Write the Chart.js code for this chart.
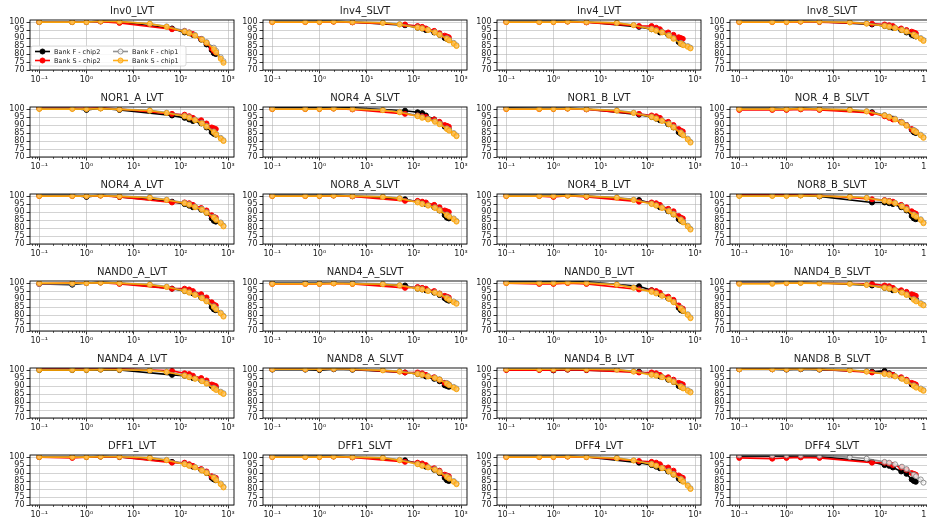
<!DOCTYPE html>
<html>
<head>
<meta charset="utf-8">
<script src="https://cdn.jsdelivr.net/npm/chart.js@4.4.1/dist/chart.umd.min.js"></script>
<style>
  html, body { margin: 0; padding: 0; background: #fff; }
  #grid { position: relative; width: 927px; height: 523px; overflow: hidden; }
  #grid canvas { position: absolute; }
</style>
</head>
<body>
<div id="grid"></div>
<script>
const titles = [
	"Inv0_LVT", "Inv4_SLVT", "Inv4_LVT", "Inv8_SLVT",
	"NOR1_A_LVT", "NOR4_A_SLVT", "NOR1_B_LVT", "NOR_4_B_SLVT",
	"NOR4_A_LVT", "NOR8_A_SLVT", "NOR4_B_LVT", "NOR8_B_SLVT",
	"NAND0_A_LVT", "NAND4_A_SLVT", "NAND0_B_LVT", "NAND4_B_SLVT",
	"NAND4_A_LVT", "NAND8_A_SLVT", "NAND4_B_LVT", "NAND8_B_SLVT",
	"DFF1_LVT", "DFF1_SLVT", "DFF4_LVT", "DFF4_SLVT",
];

const seriesNames = ["Bank F - chip2", "Bank S - chip2", "Bank F - chip1", "Bank S - chip1"];

const xChip2 = [0.1, 0.5, 1, 2, 5, 65, 120, 150, 180, 270, 350, 450, 500, 550];
const xChip1 = [0.1, 0.5, 1, 2, 5, 22, 50, 120, 150, 200, 280, 350, 500, 560, 700, 800];

const bankFchip2 = [
	[100, 100, 100, 100.5, 100, 96, 93.5, 93, 92, 89, 86, 82.5, 80.5, 80],
	[100.5, 100.5, 100.5, 100.5, 100, 98, 96.5, 96, 95, 93.5, 92, 90, 89.5, 89],
	[100.5, 100.5, 100.5, 100.5, 100, 97, 95.5, 95, 93.5, 92, 90, 87.5, 86.5, 86],
	[100.5, 100.5, 100.5, 100.5, 100.2, 98.5, 97.5, 97, 96.5, 95, 93.5, 92, 91.5, 91],
	[100.5, 100.5, 99.5, 100.5, 99.5, 96, 94.5, 93.5, 92.5, 91, 88.5, 85.5, 84.5, 84],
	[101, 101, 101, 101, 100.8, 99, 98, 97.5, 96, 93.5, 91.5, 89, 88, 87.5],
	[100.8, 100.5, 100.5, 100.5, 100, 96.5, 95, 94, 93, 90.5, 88.5, 85.5, 84.5, 84],
	[100.5, 100.5, 100, 100.5, 100, 98, 96, 95, 94, 92, 90, 87, 85.5, 85],
	[100.5, 100.5, 99.5, 100.5, 99.5, 96.5, 95, 94, 93, 91.5, 89.5, 86, 84.5, 84],
	[100.5, 100.5, 100.5, 100.5, 100, 98, 96.5, 96, 95, 93, 91, 88, 86.5, 86],
	[100.5, 100.5, 100.5, 100.8, 100, 97.5, 95.5, 94.5, 93, 90.5, 88.5, 85.5, 84.5, 84],
	[100.5, 100.5, 100.5, 100.5, 99.8, 96, 96, 95.5, 95, 93, 91, 87.5, 86, 85.5],
	[99.5, 99, 100, 100.5, 100, 96.5, 95, 94.5, 93.5, 91, 89, 85, 83.5, 83],
	[100, 100, 100, 100.2, 99.8, 98.5, 96.5, 96, 95.5, 94, 92.5, 90.5, 89.5, 89],
	[101, 101, 101, 101, 100.8, 98, 95.5, 94.5, 93, 90.5, 88.5, 84.5, 83, 82.5],
	[100.5, 100.5, 100.5, 100.5, 100.2, 98.5, 97, 96.5, 95.5, 94.5, 93, 91, 90.5, 90],
	[100, 100, 100, 100.3, 100, 97, 96.5, 96, 95, 93.5, 92, 90, 89.5, 89],
	[100.3, 100.3, 100, 100.5, 100.2, 98.5, 97.5, 97, 96, 94.5, 93, 90.5, 90, 89.5],
	[100.3, 100.3, 99.8, 100.3, 100, 99, 97.5, 97, 96, 94, 92.5, 90, 89.5, 89],
	[100.5, 100.5, 100.3, 100.5, 100.3, 99, 99.5, 98, 97, 95, 93.5, 91, 90.5, 90],
	[100, 100, 100, 100.3, 100, 97, 96, 95, 94, 92, 90, 87, 86, 85.5],
	[100.5, 100.5, 100.5, 100.5, 100, 98, 96, 95, 94, 92, 90, 87, 85.5, 85],
	[100.5, 100.5, 100.5, 100.5, 100, 96.5, 95, 94, 93, 91, 89, 86.5, 85.5, 85],
	[100.5, 100.5, 100.5, 100.5, 100.3, 97, 95, 94.5, 93.5, 91, 89.5, 86, 85, 84.5],
];

const bankSchip2 = [
	[100, 100, 100, 100.3, 99.5, 95.5, 94.5, 93.5, 92.5, 89.5, 87, 83.5, 82, 81],
	[100, 100, 100, 100.2, 99.8, 98.5, 97.5, 97, 96, 94.5, 93, 91.5, 91, 90.5],
	[100, 100, 100, 100.3, 99.8, 97.5, 97.5, 96.5, 95.5, 93.5, 92, 90.5, 90, 89.5],
	[100, 100, 100, 100.3, 100, 99, 98.5, 98, 97.5, 96, 95, 94, 93.5, 93],
	[100.5, 100.5, 100.5, 100.8, 100, 97, 96.5, 95.5, 94.5, 93, 91, 88.5, 88, 87.5],
	[100, 100, 100, 100.3, 99.8, 97, 96, 95.5, 95, 93.5, 92, 90, 89.5, 89],
	[100, 100, 100, 100.3, 99.8, 97, 96, 95.5, 94.5, 92, 90, 87.5, 86.5, 86],
	[99.5, 99.5, 99.5, 99.8, 99.5, 97.5, 95.5, 94.5, 93.5, 92, 90, 87.5, 86.5, 86],
	[100, 100, 100, 100.3, 99.5, 96, 96, 95.5, 94.5, 92.5, 91, 88, 87, 86.5],
	[100, 100, 100, 100.3, 99.8, 97, 97, 96.5, 96, 94.5, 93, 91, 90.5, 90],
	[100, 100, 99.5, 100.3, 99.5, 96.5, 96, 95.5, 94.5, 92, 90.5, 87.5, 86.5, 86],
	[101, 101, 101, 101, 100.5, 98, 97.5, 97, 96.5, 94.5, 93, 90.5, 89.5, 89],
	[99.5, 100, 100, 100.3, 99.5, 96.5, 96.5, 96, 95, 93, 91, 88, 86.5, 86],
	[99.5, 99.5, 99.5, 99.8, 99.5, 97, 97.5, 97, 96.5, 95, 93.5, 92, 91.5, 91],
	[100, 99.5, 99.5, 100, 99.5, 96, 95.5, 95, 94, 91.5, 89.5, 86, 84.5, 84],
	[100, 100, 100, 100.3, 100, 99.5, 98.5, 98, 97, 95.5, 94.5, 93, 92.5, 92],
	[101, 101, 101, 101, 100.8, 99.5, 98, 97.5, 96.5, 95, 93.5, 91, 90.5, 90],
	[100.5, 100.5, 100.5, 100.8, 100.5, 98.5, 98.5, 98, 97, 95.5, 94, 92, 91.5, 91],
	[100, 100, 100, 100.3, 100, 98.5, 98.5, 98, 97, 95.5, 94, 92, 91.5, 91],
	[100.5, 100.5, 100.5, 100.8, 100.5, 98.5, 98, 97.5, 97, 95.5, 94, 92, 91.5, 91],
	[100, 99.5, 100, 100.3, 100, 96.5, 96.5, 95.5, 94.5, 92.5, 91, 88, 87.5, 87],
	[100, 100, 100, 100.3, 99.8, 97, 96.5, 96, 95, 93, 91.5, 89, 88.5, 88],
	[100, 100, 100, 100.3, 100, 97.5, 97, 96.5, 95.5, 93.5, 91.5, 88.5, 87.5, 87],
	[99.5, 99, 99.5, 99.8, 99.5, 96.5, 96.5, 96, 95, 93.5, 92, 90, 89.5, 89],
];

const bankFchip1 = [
	[100, 100, 100, 100.5, 100.5, 99, 97.3, 94.5, 93.5, 92, 89.5, 87.5, 84, 82, 78, 75.5],
	[100.5, 100.5, 100.5, 100.5, 100.2, 99.7, 98.7, 96.8, 96.2, 95.3, 93.8, 92.3, 90, 89, 87, 85.5],
	[100.3, 100.3, 100.3, 100.5, 100.2, 99.6, 98.2, 95.8, 95, 94, 92, 90, 87, 86, 85, 84],
	[100.5, 100.5, 100.5, 100.5, 100.3, 100, 99.2, 97.8, 97.3, 96.5, 95.3, 94.3, 92.3, 91.3, 90, 88.8],
	[100.3, 100.3, 100, 100.5, 100, 99.2, 97.8, 95.8, 95, 93.5, 91.5, 89.5, 86, 84.5, 82, 80.5],
	[100.3, 100.3, 100.3, 100.5, 100.2, 99.5, 98.3, 96, 95, 94, 92.5, 91, 88, 87, 85, 83.5],
	[100.5, 100.5, 100.3, 100.5, 100, 99.2, 97.8, 95.3, 94.3, 93, 91, 89, 85.5, 84, 81.5, 79.5],
	[100.3, 100.3, 100.3, 100.5, 100.2, 99.7, 98.7, 96.3, 95.3, 94, 92, 90, 87, 86, 84, 82.5],
	[100.3, 100.3, 100, 100.5, 100, 99.3, 97.8, 95.8, 95, 93.5, 92, 90, 87, 85.5, 83.5, 81.5],
	[100.3, 100.3, 100.3, 100.5, 100.2, 99.7, 98.7, 96.3, 95.3, 94.3, 93, 91.5, 88.5, 87.5, 86, 84.5],
	[100.3, 100.3, 100.3, 100.5, 100, 99.2, 97.8, 95.3, 94.3, 93, 91, 89, 85.5, 84, 81.5, 79.5],
	[100.3, 100.3, 100.3, 100.5, 100.2, 99.7, 99, 97.3, 96.8, 95.8, 94, 92, 88.5, 87.5, 85.5, 83.5],
	[99.5, 99.5, 100, 100.3, 100, 99.2, 97.8, 95.3, 94.3, 93, 91, 89, 85.5, 84, 81.5, 79.5],
	[100, 100, 100, 100.2, 100, 99.6, 98.8, 96.8, 96.3, 95.3, 94.3, 93.3, 91, 90, 88.5, 87.5],
	[100.5, 100.5, 100.5, 100.7, 100.3, 99.3, 97.3, 94.8, 93.8, 92.3, 90.3, 88.3, 84.5, 83, 80.5, 78.5],
	[100.3, 100.3, 100.3, 100.5, 100.2, 99.8, 99, 97.3, 96.8, 95.8, 94.3, 93, 90, 89, 87.5, 86.5],
	[100.5, 100.5, 100.5, 100.7, 100.3, 100, 99, 96.8, 95.8, 94.8, 93.3, 92, 89, 88, 86.5, 85.5],
	[100.5, 100.5, 100.5, 100.8, 100.5, 100, 99.2, 97.8, 97.3, 96.3, 95.3, 94.3, 92, 91, 89.5, 88.5],
	[100.5, 100.5, 100.5, 100.8, 100.5, 100.3, 99.2, 97.3, 96.8, 95.8, 94.3, 93, 90, 89, 87.5, 86.5],
	[100.5, 100.5, 100.5, 100.8, 100.5, 100, 99.2, 97.8, 97.3, 96.3, 94.8, 93.3, 90.5, 89.5, 88.5, 87.5],
	[100.3, 100.3, 100.3, 100.5, 100.3, 99.7, 98.3, 95.8, 94.8, 93.8, 92, 90.5, 87.5, 86, 83.5, 81.5],
	[100.3, 100.3, 100.3, 100.5, 100.2, 99.7, 98.3, 95.8, 94.8, 93.8, 92.5, 91, 88, 87, 85, 83.5],
	[100.5, 100.5, 100.5, 100.7, 100.3, 99.5, 98, 95.8, 94.8, 93.3, 91.5, 89.5, 86.5, 85, 82.5, 80.5],
	[101, 101, 101, 101, 100.8, 100, 99, 97, 96.5, 95.5, 94, 92.5, 89, 88, 86, 84],
];

const bankSchip1 = [
	[100, 100, 100, 100.5, 100.3, 99, 97, 94, 93, 91.5, 89, 87, 83, 81, 77, 74.5],
	[100, 100, 100, 100.3, 100, 99.5, 98.5, 96.5, 96, 95, 93.5, 92, 89.5, 88.5, 86.5, 85],
	[100, 100, 100, 100.3, 100, 99.5, 98, 95.5, 94.5, 93.5, 91.5, 89.5, 86.5, 85.5, 84.5, 83.5],
	[100, 100, 100, 100.3, 100.2, 99.8, 99, 97.5, 97, 96.2, 95, 94, 92, 91, 89.5, 88.2],
	[100, 100, 100, 100.3, 99.8, 99, 97.5, 95.5, 94.5, 93, 91, 89, 85.5, 84, 81.5, 80],
	[100, 100, 100, 100.3, 100, 99.3, 98, 95.5, 94.5, 93.5, 92, 90.5, 87.5, 86.5, 84.5, 83],
	[100, 100, 100, 100.3, 100, 99, 97.5, 95, 94, 92.5, 90.5, 88.5, 85, 83.5, 81, 79],
	[100, 100, 100, 100.3, 100, 99.5, 98.5, 96, 95, 93.5, 91.5, 89.5, 86.5, 85.5, 83.5, 82],
	[100, 100, 100, 100.3, 99.8, 99, 97.5, 95.5, 94.5, 93, 91.5, 89.5, 86.5, 85, 83, 81],
	[100, 100, 100, 100.3, 100, 99.5, 98.5, 96, 95, 94, 92.5, 91, 88, 87, 85.5, 84],
	[100, 100, 100, 100.3, 100, 99, 97.5, 95, 94, 92.5, 90.5, 88.5, 85, 83.5, 81, 79],
	[100, 100, 100, 100.3, 100, 99.5, 98.8, 97, 96.5, 95.5, 93.5, 91.5, 88, 87, 85, 83],
	[100, 100, 100, 100.3, 100, 99, 97.5, 95, 94, 92.5, 90.5, 88.5, 85, 83.5, 81, 79],
	[99.5, 99.5, 99.5, 99.8, 99.5, 99.3, 98.5, 96.5, 96, 95, 94, 93, 90.5, 89.5, 88, 87],
	[100, 100, 100, 100.3, 100, 99, 97, 94.5, 93.5, 92, 90, 88, 84, 82.5, 80, 78],
	[99.5, 99.5, 100, 100, 99.8, 99.5, 98.8, 97, 96.5, 95.5, 94, 92.5, 89.5, 88.5, 87, 86],
	[100, 100, 100, 100.3, 100.2, 99.8, 98.8, 96.5, 95.5, 94.5, 93, 91.5, 88.5, 87.5, 86, 85],
	[100.5, 100.5, 100.5, 100.8, 100.5, 99.8, 99, 97.5, 97, 96, 95, 94, 91.5, 90.5, 89, 88],
	[100.5, 100.5, 100.5, 100.8, 100.5, 100.3, 99, 97, 96.5, 95.5, 94, 92.5, 89.5, 88.5, 87, 86],
	[100.5, 100.5, 100.5, 100.8, 100.5, 100, 99, 97.5, 97, 96, 94.5, 93, 90, 89, 88, 87],
	[100, 100, 100, 100.3, 100.2, 99.5, 98, 95.5, 94.5, 93.5, 91.5, 90, 87, 85.5, 83, 81],
	[100, 100, 100, 100.3, 100, 99.5, 98, 95.5, 94.5, 93.5, 92, 90.5, 87.5, 86.5, 84.5, 83],
	[100, 100, 100, 100.3, 100, 99.3, 97.8, 95.5, 94.5, 93, 91, 89, 86, 84.5, 82, 80],
	[],
];

const xTicks = [0.1, 1, 10, 100, 1000];
const xTickLabels = ["10⁻¹", "10⁰", "10¹", "10²", "10³"];
const yTicks = [70, 75, 80, 85, 90, 95, 100];

// Colours for each series: line, marker fill
const lineColors = ["#000000", "#ff0000", "rgba(128,128,128,0.85)", "rgba(255,165,0,0.9)"];
const markerFills = ["#000000", "#ff0000", "rgba(255,255,255,0.7)", "rgba(255,190,80,0.75)"];

const fontFamily = "'DejaVu Sans', sans-serif";

const drawLegend = (chart) => {
	const { ctx, chartArea: a } = chart;
	const left = a.left + 1;
	const top = a.top + 26;
	const w = 155;
	const h = 20;
	ctx.fillStyle = "rgba(255,255,255,0.85)";
	ctx.strokeStyle = "#d0d0d0";
	ctx.lineWidth = 0.8;
	ctx.beginPath();
	ctx.roundRect(left, top, w, h, 2);
	ctx.fill();
	ctx.stroke();
	ctx.font = `6.5px ${fontFamily}`;
	ctx.textAlign = "left";
	ctx.textBaseline = "middle";
	seriesNames.forEach((name, i) => {
		const col = Math.floor(i / 2);
		const row = i % 2;
		const x0 = left + 4 + col * 78;
		const y0 = top + 5.5 + row * 9;
		ctx.strokeStyle = lineColors[i];
		ctx.lineWidth = 1.6;
		ctx.beginPath();
		ctx.moveTo(x0, y0);
		ctx.lineTo(x0 + 15, y0);
		ctx.stroke();
		ctx.fillStyle = markerFills[i];
		ctx.lineWidth = 1;
		ctx.beginPath();
		ctx.arc(x0 + 7.5, y0, 2.5, 0, Math.PI * 2);
		ctx.fill();
		ctx.stroke();
		ctx.fillStyle = "#222";
		ctx.fillText(name, x0 + 19, y0 + 0.5);
	});
};

const panelPlugin = {
	id: "panel",
	afterDraw(chart, args, opts) {
		const { ctx, chartArea: a, scales } = chart;
		const xs = scales.x;
		ctx.save();
		// minor ticks on log axis
		ctx.strokeStyle = "#000";
		ctx.lineWidth = 0.6;
		for (let d = -2; d <= 3; d++) {
			for (let m = 2; m <= 9; m++) {
				const v = m * 10 ** d;
				if (v < xs.min || v > xs.max) continue;
				const px = Math.round(xs.getPixelForValue(v)) + 0.5;
				ctx.beginPath();
				ctx.moveTo(px, a.bottom);
				ctx.lineTo(px, a.bottom + 2);
				ctx.stroke();
			}
		}
		// frame
		ctx.lineWidth = 0.9;
		ctx.strokeStyle = "#000";
		ctx.strokeRect(a.left, a.top, a.right - a.left, a.bottom - a.top);
		// title
		ctx.fillStyle = "#222";
		ctx.font = `10px ${fontFamily}`;
		ctx.textAlign = "center";
		ctx.textBaseline = "middle";
		ctx.fillText(opts.title, (a.left + a.right) / 2, a.top - 9);
		if (opts.legend) drawLegend(chart);
		ctx.restore();
	},
};

const makeSet = (i, xs, ys) => ({
	label: seriesNames[i],
	order: 4 - i,
	data: ys.map((y, k) => ({ x: xs[k], y })),
	borderColor: lineColors[i],
	backgroundColor: markerFills[i],
	pointBackgroundColor: markerFills[i],
	pointBorderColor: lineColors[i],
	borderWidth: 1.6,
	pointRadius: 2.5,
	pointBorderWidth: 1,
	tension: 0,
});

const grid = document.getElementById("grid");

titles.forEach((title, p) => {
	const row = Math.floor(p / 4);
	const col = p % 4;
	const boxLeft = 30 + col * 233.3;
	const boxTop = 20 + row * 87;

	const canvas = document.createElement("canvas");
	canvas.width = 240;
	canvas.height = 88;
	canvas.style.left = `${Math.round(boxLeft - 30)}px`;
	canvas.style.top = `${boxTop - 20}px`;
	grid.appendChild(canvas);

	new Chart(canvas.getContext("2d"), {
		type: "line",
		data: {
			datasets: [
				makeSet(0, xChip2, bankFchip2[p]),
				makeSet(1, xChip2, bankSchip2[p]),
				makeSet(2, xChip1, bankFchip1[p]),
				makeSet(3, xChip1, bankSchip1[p]),
			],
		},
		options: {
			responsive: false,
			animation: false,
			devicePixelRatio: 1,
			layout: { padding: { top: 20, right: 6, left: 0, bottom: 0 } },
			scales: {
				x: {
					type: "logarithmic",
					min: 0.0636,
					max: 1337,
					afterBuildTicks: (s) => {
						s.ticks = xTicks.map((v) => ({ value: v }));
					},
					afterFit: (s) => {
						s.height = 18;
					},
					ticks: {
						autoSkip: false,
						maxRotation: 0,
						padding: 2,
						color: "#222",
						font: { family: fontFamily, size: 8 },
						callback: (v) => xTickLabels[xTicks.indexOf(v)] ?? "",
					},
					grid: {
						color: "rgba(176,176,176,0.7)",
						lineWidth: 0.8,
						tickColor: "#000",
						tickLength: 3.5,
						tickWidth: 0.8,
					},
					border: { display: false },
				},
				y: {
					min: 70,
					max: 101.3,
					afterBuildTicks: (s) => {
						s.ticks = yTicks.map((v) => ({ value: v }));
					},
					afterFit: (s) => {
						s.width = 30;
					},
					ticks: {
						autoSkip: false,
						padding: 2,
						color: "#222",
						font: { family: fontFamily, size: 8, lineHeight: 1 },
					},
					grid: {
						color: "rgba(176,176,176,0.7)",
						lineWidth: 0.8,
						tickColor: "#000",
						tickLength: 3.5,
						tickWidth: 0.8,
					},
					border: { display: false },
				},
			},
			plugins: {
				legend: { display: false },
				tooltip: { enabled: false },
				panel: { title, legend: p === 0 },
			},
		},
		plugins: [panelPlugin],
	});
});
</script>
</body>
</html>
